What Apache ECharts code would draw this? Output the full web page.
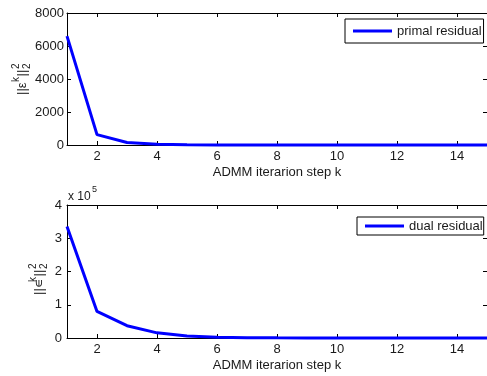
<!DOCTYPE html>
<html>
<head>
<meta charset="utf-8">
<script src="https://cdn.jsdelivr.net/npm/echarts@6/dist/echarts.min.js"></script>
<style>
html,body{margin:0;padding:0;background:#fff;}
#c{width:487px;height:376px;}
</style>
</head>
<body>
<div id="c"></div>
<script>
const steps = [1,2,3,4,5,6,7,8,9,10,11,12,13,14,15];
const xTicks = [2,4,6,8,10,12,14];
const primal = [6600,630,150,40,15,6,3,1.5,1,0.5,0.3,0.2,0.1,0.1,0.05];
const dual = [335000,80000,37000,15500,6000,2500,1000,450,200,100,50,30,20,10,5];
const primalName = 'primal residual';
const dualName = 'dual residual';
const xName = 'ADMM iterarion step k';

const FONT = 'Liberation Sans, Arial, Helvetica, sans-serif';
const TXT = '#1a1a1a';

function xAxes(gi){
  return [{
    type:'value', gridIndex:gi, min:1, max:15, position:'bottom',
    name: xName, nameLocation:'middle', nameGap:21,
    nameTextStyle:{fontFamily:FONT,fontSize:13,color:TXT},
    axisLine:{show:true,onZero:false,lineStyle:{color:'#000',width:1}},
    axisTick:{show:true,inside:true,length:4,customValues:xTicks,lineStyle:{color:'#000'}},
    axisLabel:{show:true,customValues:xTicks,margin:5,fontFamily:FONT,fontSize:13,color:TXT},
    splitLine:{show:false}
  },{
    type:'value', gridIndex:gi, min:1, max:15, position:'top',
    axisLine:{show:true,onZero:false,lineStyle:{color:'#000',width:1}},
    axisTick:{show:true,inside:true,length:4,customValues:xTicks,lineStyle:{color:'#000'}},
    axisLabel:{show:false},
    splitLine:{show:false}
  }];
}
function yAxes(gi, max, interval, fmt, margin){
  return [{
    type:'value', gridIndex:gi, min:0, max:max, interval:interval, position:'left',
    axisLine:{show:true,onZero:false,lineStyle:{color:'#000',width:1}},
    axisTick:{show:true,inside:true,length:4,lineStyle:{color:'#000'}},
    axisLabel:{show:true,margin:margin,fontFamily:FONT,fontSize:13,color:TXT,formatter:fmt},
    splitLine:{show:false}
  },{
    type:'value', gridIndex:gi, min:0, max:max, interval:interval, position:'right',
    axisLine:{show:true,onZero:false,lineStyle:{color:'#000',width:1}},
    axisTick:{show:true,inside:true,length:4,lineStyle:{color:'#000'}},
    axisLabel:{show:false},
    splitLine:{show:false}
  }];
}

function yNameGroup(cx, cy, sym){
  return {
    type:'group', x:cx, y:cy, rotation:Math.PI/2,
    children:[
      {type:'text', x:-20, y:0, style:{text:'||'+sym, font:'13px '+FONT, fill:TXT, verticalAlign:'middle', align:'left'}},
      {type:'text', x:-7, y:-6, style:{text:'k', font:'10px '+FONT, fill:TXT, verticalAlign:'middle', align:'left'}},
      {type:'text', x:-1.5, y:0, style:{text:'||', font:'13px '+FONT, fill:TXT, verticalAlign:'middle', align:'left'}},
      {type:'text', x:6, y:-6, style:{text:'2', font:'10px '+FONT, fill:TXT, verticalAlign:'middle', align:'left'}},
      {type:'text', x:6, y:5, style:{text:'2', font:'10px '+FONT, fill:TXT, verticalAlign:'middle', align:'left'}}
    ]
  };
}

const chart = echarts.init(document.getElementById('c'), null, {renderer:'canvas'});
const xa0 = xAxes(0), xa1 = xAxes(1);
const ya0 = yAxes(0, 8000, 2000, v=>String(v), 3);
const ya1 = yAxes(1, 400000, 100000, v=>String(v/100000), 5);

chart.setOption({
  animation:false,
  backgroundColor:'#fff',
  grid:[
    {left:67, top:13, width:421, height:132},
    {left:67, top:205, width:421, height:133}
  ],
  xAxis:[xa0[0], xa0[1], xa1[0], xa1[1]],
  yAxis:[ya0[0], ya0[1], ya1[0], ya1[1]],
  legend:[{
    data:[primalName], left:345, top:19, orient:'horizontal',
    padding:[5,2,5,8], borderColor:'#000', borderWidth:1, backgroundColor:'#fff',
    itemWidth:39, itemHeight:3, icon:'rect',
    textStyle:{fontFamily:FONT,fontSize:13,color:TXT,lineHeight:14},
    selectedMode:false
  },{
    data:[dualName], left:357, top:217, orient:'horizontal',
    padding:[2,1,2,8], borderColor:'#000', borderWidth:1, backgroundColor:'#fff',
    itemWidth:39, itemHeight:3, icon:'rect',
    textStyle:{fontFamily:FONT,fontSize:13,color:TXT,lineHeight:14},
    selectedMode:false
  }],
  series:[{
    name:primalName, type:'line', xAxisIndex:0, yAxisIndex:0,
    data: steps.map((s,i)=>[s, primal[i]]),
    showSymbol:false, symbol:'none', clip:false,
    lineStyle:{color:'#0000ff', width:3}, itemStyle:{color:'#0000ff'}
  },{
    name:dualName, type:'line', xAxisIndex:2, yAxisIndex:2,
    data: steps.map((s,i)=>[s, dual[i]]),
    showSymbol:false, symbol:'none', clip:false,
    lineStyle:{color:'#0000ff', width:3}, itemStyle:{color:'#0000ff'}
  }],
  graphic:[
    yNameGroup(22, 75, 'ε'),
    yNameGroup(39, 275, '∊'),
    {type:'text', x:68, y:197, style:{text:'x 10', font:'12px '+FONT, fill:TXT, verticalAlign:'middle'}},
    {type:'text', x:92, y:190, style:{text:'5', font:'9px '+FONT, fill:TXT, verticalAlign:'middle'}}
  ]
});
</script>
</body>
</html>
